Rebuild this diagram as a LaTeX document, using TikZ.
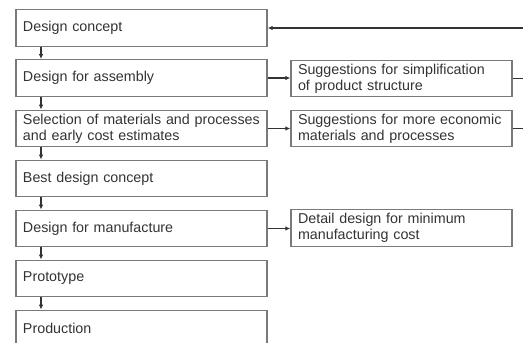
\documentclass[tikz,border=0pt]{standalone}
\usepackage{fontspec}
\setmainfont{Liberation Sans}
\usetikzlibrary{arrows.meta}
\definecolor{txt}{HTML}{333333}
\definecolor{boxc}{HTML}{7A7A7A}
\definecolor{linec}{HTML}{333333}
\newcommand{\nohyph}{\hyphenpenalty=10000 \exhyphenpenalty=10000 \hbadness=10000 \hfuzz=20pt\relax}
\tikzset{
  lbox/.style={draw=boxc, line width=1.3pt, minimum width=251pt, minimum height=36.5pt,
    text width=237pt, inner xsep=7pt, inner ysep=0pt, align=left, text=txt,
    font=\fontsize{14.3pt}{16pt}\selectfont, execute at begin node=\nohyph},
  rbox/.style={lbox, minimum width=221pt, text width=207pt},
  arr/.style={draw=linec, line width=1.1pt, -{Latex[length=5pt,width=4.5pt]}},
  ln/.style={draw=linec, line width=1.1pt}
}
\begin{document}
\begin{tikzpicture}[x=1pt,y=1pt]
\useasboundingbox (0,0) rectangle (523,-343);
\node[lbox] (b1) at (141.5,-28) {Design concept};
\node[lbox] (b2) at (141.5,-78) {Design for assembly};
\node[lbox] (b3) at (141.5,-128.5) {Selection of materials and processes\\and early cost estimates};
\node[lbox] (b4) at (141.5,-178.5) {Best design concept};
\node[lbox] (b5) at (141.5,-228.5) {Design for manufacture};
\node[lbox] (b6) at (141.5,-278.5) {Prototype};
\node[lbox] (b7) at (141.5,-328.5) {Production};
\node[rbox] (r1) at (401.5,-78.5) {Suggestions for simplification\\of product structure};
\node[rbox] (r2) at (401.5,-128.5) {Suggestions for more economic\\materials and processes};
\node[rbox] (r3) at (401.5,-228) {Detail design for minimum\\manufacturing cost};
\coordinate (ax) at (41,0);
\coordinate (re) at (524,0);
\foreach \a/\b in {b1/b2,b2/b3,b3/b4,b4/b5,b5/b6,b6/b7}
  \draw[arr] (\a.south -| ax) -- (\b.north -| ax);
\draw[arr] (b1.east -| re) -- (b1.east);
\draw[arr] (b2.east) -- (b2.east -| r1.west);
\draw[arr] (b3.east) -- (b3.east -| r2.west);
\draw[arr] (b5.east) -- (b5.east -| r3.west);
\draw[ln] (r1.east) -- (r1.east -| re);
\draw[ln] (r2.east) -- (r2.east -| re);
\end{tikzpicture}
\end{document}
